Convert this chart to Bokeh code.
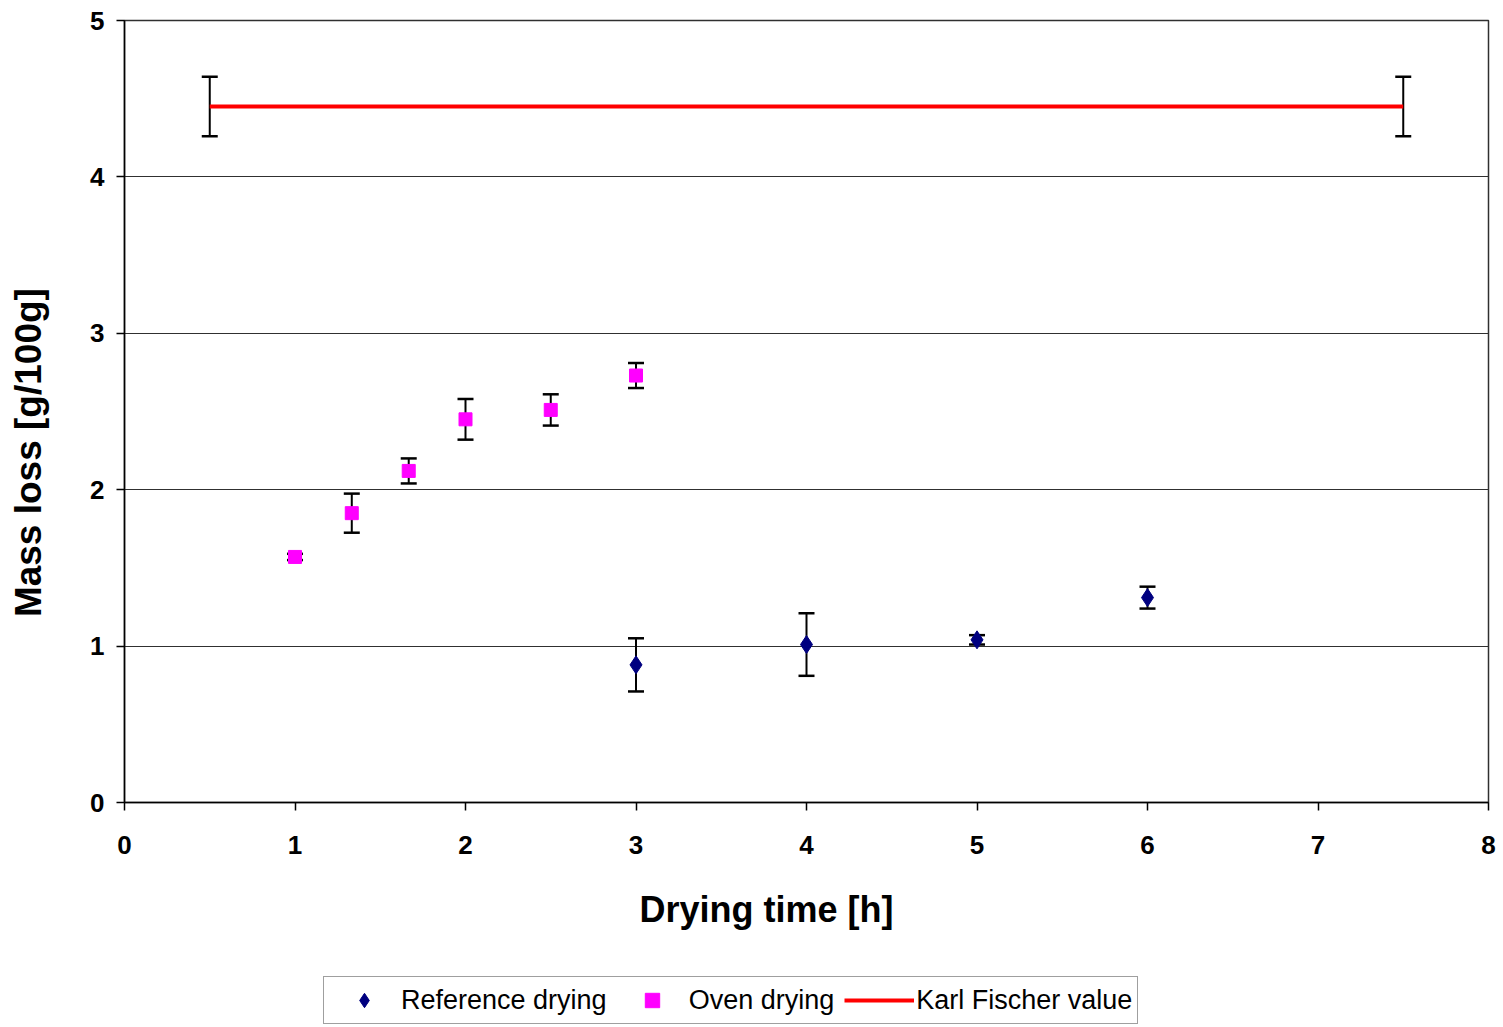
from bokeh.plotting import figure
from bokeh.models import (ColumnDataSource, Whisker, TeeHead, Legend, LegendItem,
                          FixedTicker, Range1d)
from bokeh.layouts import column
from bokeh.embed import file_html
from bokeh.resources import INLINE

# ---- data ----
ref_x = [3, 4, 5, 6]
ref_y = [0.88, 1.01, 1.04, 1.31]
ref_err = [0.17, 0.20, 0.03, 0.07]

oven_x = [1, 1.333, 1.667, 2, 2.5, 3]
oven_y = [1.57, 1.85, 2.12, 2.45, 2.51, 2.73]
oven_err = [0.02, 0.125, 0.08, 0.13, 0.10, 0.08]

kf_x = [0.5, 7.5]
kf_y = [4.45, 4.45]
kf_err = [0.19, 0.19]

x_ticks = [0, 1, 2, 3, 4, 5, 6, 7, 8]
y_ticks = [0, 1, 2, 3, 4, 5]

FONT = "Liberation Sans"
REF_COLOR = "#000080"
OVEN_COLOR = "#FF00FF"
KF_COLOR = "#FF0000"

p = figure(width=1503, height=960, output_backend="svg", toolbar_location=None,
           x_range=Range1d(0, 8), y_range=Range1d(0, 5),
           min_border_left=124, min_border_right=15, min_border_top=20,
           min_border_bottom=158)

p.background_fill_color = "white"
p.border_fill_color = "white"
p.outline_line_color = "#303030"
p.outline_line_width = 1.5

p.xgrid.visible = False
p.ygrid.grid_line_color = "#303030"
p.ygrid.grid_line_width = 1.2

p.xaxis.ticker = FixedTicker(ticks=x_ticks)
p.yaxis.ticker = FixedTicker(ticks=y_ticks)
for ax in (p.xaxis[0], p.yaxis[0]):
    ax.major_label_text_font = FONT
    ax.major_label_text_font_style = "bold"
    ax.major_label_text_font_size = "26px"
    ax.major_label_text_color = "black"
    ax.axis_line_color = "black"
    ax.axis_line_width = 1.5
    ax.major_tick_line_color = "black"
    ax.major_tick_line_width = 1.5
    ax.major_tick_in = 0
    ax.major_tick_out = 8
    ax.minor_tick_line_color = None
    ax.axis_label_text_font = FONT
    ax.axis_label_text_font_style = "bold"
    ax.axis_label_text_color = "black"

# trailing no-break spaces shift the visible labels off the frame centre,
# as in the reference
p.xaxis.axis_label = "Drying time [h]" + "\u00a0" * 8
p.xaxis.axis_label_text_font_size = "36px"
p.xaxis.major_label_standoff = 25
p.xaxis.axis_label_standoff = 32

p.yaxis.axis_label = "Mass loss [g/100g]" + "\u00a0" * 8
p.yaxis.axis_label_text_font_size = "37px"
p.yaxis.major_label_standoff = 12
p.yaxis.axis_label_standoff = 38

# ---- sources ----
ref_src = ColumnDataSource(dict(x=ref_x, y=ref_y,
                                lo=[a - b for a, b in zip(ref_y, ref_err)],
                                hi=[a + b for a, b in zip(ref_y, ref_err)]))
oven_src = ColumnDataSource(dict(x=oven_x, y=oven_y,
                                 lo=[a - b for a, b in zip(oven_y, oven_err)],
                                 hi=[a + b for a, b in zip(oven_y, oven_err)]))
kf_src = ColumnDataSource(dict(x=kf_x, y=kf_y,
                               lo=[a - b for a, b in zip(kf_y, kf_err)],
                               hi=[a + b for a, b in zip(kf_y, kf_err)]))

# Karl Fischer line
p.line("x", "y", source=kf_src, line_color=KF_COLOR, line_width=4)

# error bars
for src in (kf_src, oven_src, ref_src):
    w = Whisker(source=src, base="x", lower="lo", upper="hi", dimension="height",
                line_color="black", line_width=2,
                upper_head=TeeHead(size=16, line_color="black", line_width=2.5),
                lower_head=TeeHead(size=16, line_color="black", line_width=2.5))
    p.add_layout(w)

p.scatter("x", "y", source=ref_src, marker="diamond", size=18,
          fill_color=REF_COLOR, line_color=REF_COLOR)
p.scatter("x", "y", source=oven_src, marker="square", size=13,
          fill_color=OVEN_COLOR, line_color=OVEN_COLOR)

# ---- legend strip (separate figure below the chart) ----
lf = figure(width=1503, height=67, output_backend="svg", toolbar_location=None,
            x_range=Range1d(0, 1), y_range=Range1d(0, 1),
            x_axis_location=None, y_axis_location=None,
            min_border=0, min_border_left=0, min_border_right=0,
            min_border_top=0, min_border_bottom=0)
lf.outline_line_color = None
lf.xgrid.visible = False
lf.ygrid.visible = False
lf.background_fill_color = "white"
lf.border_fill_color = "white"

# proxy renderers (points placed outside the visible range) for legend glyphs
l_ref = lf.scatter(x=[5], y=[5], marker="diamond", size=18,
                   fill_color=REF_COLOR, line_color=REF_COLOR)
l_oven = lf.scatter(x=[5], y=[5], marker="square", size=13,
                    fill_color=OVEN_COLOR, line_color=OVEN_COLOR)
l_kf = lf.line(x=[5, 6], y=[5, 5], line_color=KF_COLOR, line_width=4)

legend = Legend(items=[
    LegendItem(label="Reference drying", renderers=[l_ref]),
    LegendItem(label="Oven drying", renderers=[l_oven]),
    LegendItem(label="Karl Fischer value", renderers=[l_kf]),
], orientation="horizontal", location=(199, 3))
legend.label_text_font = FONT
legend.label_text_font_size = "27px"
legend.label_text_color = "black"
legend.glyph_width = 70
legend.glyph_height = 36
legend.label_height = 30
legend.label_standoff = 2
legend.spacing = 10
legend.padding = 5
legend.margin = 0
legend.border_line_color = "#404040"
legend.border_line_width = 1.2
legend.background_fill_color = "white"
legend.background_fill_alpha = 1.0
lf.add_layout(legend, "center")

layout = column(p, lf, spacing=0)
open("out.html", "w").write(file_html(layout, INLINE))
